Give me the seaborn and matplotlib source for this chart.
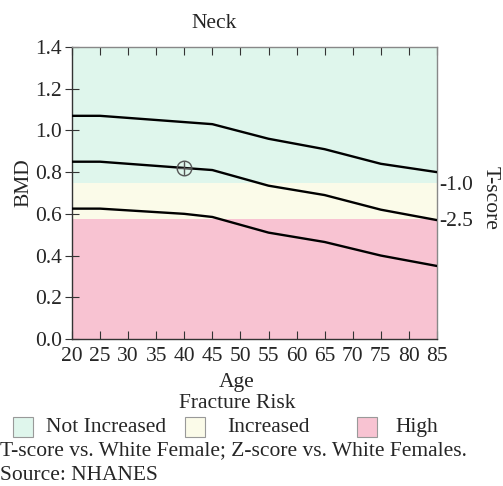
import matplotlib
matplotlib.use("Agg")
import matplotlib.pyplot as plt
import seaborn as sns
import pandas as pd
from matplotlib.patches import Rectangle

ages = [20, 25, 40, 45, 55, 65, 75, 85]
upper = [1.07, 1.07, 1.04, 1.03, 0.96, 0.91, 0.84, 0.80]
middle = [0.85, 0.85, 0.82, 0.81, 0.735, 0.69, 0.62, 0.57]
lower = [0.625, 0.625, 0.60, 0.585, 0.51, 0.465, 0.40, 0.35]

patient_age = 40
patient_bmd = 0.82

tscore_bmd = [0.748, 0.574]
tscore_labels = ["-1.0", "-2.5"]
risk_labels = ["Not Increased", "Increased", "High"]
risk_colors = ["#dff6ec", "#fbfbe9", "#f8c3d2"]

df = pd.DataFrame({
    "Age": ages * 3,
    "BMD": upper + middle + lower,
    "curve": ["upper"] * len(ages) + ["middle"] * len(ages) + ["lower"] * len(ages),
})

FS = 15.5

sns.set_style("ticks")
plt.rcParams["font.family"] = ["Liberation Serif", "DejaVu Serif"]
plt.rcParams["font.size"] = FS

fig = plt.figure(figsize=(5.03, 4.86), dpi=100)
ax = fig.add_axes([0.1431, 0.3025, 0.7256, 0.6008])

# risk bands
ax.axhspan(tscore_bmd[0], 1.4, color=risk_colors[0], lw=0, zorder=0)
ax.axhspan(tscore_bmd[1], tscore_bmd[0], color=risk_colors[1], lw=0, zorder=0)
ax.axhspan(0, tscore_bmd[1], color=risk_colors[2], lw=0, zorder=0)

sns.lineplot(data=df, x="Age", y="BMD", units="curve", estimator=None,
             color="black", lw=1.7, ax=ax, zorder=3)
ax.plot(patient_age, patient_bmd, marker="o", ms=10.5, mfc="none",
        mec="#555555", mew=1.0, zorder=4)
ax.plot(patient_age, patient_bmd, marker="+", ms=10.5, color="#555555",
        mew=1.0, zorder=4)

ax.set_xlim(20, 85)
ax.set_ylim(0, 1.4)
ax.set_xticks(range(20, 90, 5))
ax.set_yticks([0.0, 0.2, 0.4, 0.6, 0.8, 1.0, 1.2, 1.4])
ax.set_yticklabels(["0.0", "0.2", "0.4", "0.6", "0.8", "1.0", "1.2", "1.4"])
ax.tick_params(axis="x", direction="in", length=6, top=True, labeltop=False,
               labelsize=FS, pad=6, color="#333333")
ax.tick_params(axis="y", direction="inout", length=10, right=True,
               labelright=False, labelsize=FS, pad=2, color="#333333")
for s in ax.spines.values():
    s.set_color("#333333")
    s.set_linewidth(1.0)
ax.spines["top"].set_color("#888888")
ax.spines["right"].set_color("#888888")

ax.set_xlabel("Age", fontsize=FS)
ax.xaxis.set_label_coords(0.452, -0.115)
ax.set_ylabel("BMD", fontsize=FS, labelpad=0)
ax.yaxis.set_label_coords(-0.105, 0.534)

ax2 = ax.twinx()
ax2.set_ylim(0, 1.4)
ax2.set_yticks(tscore_bmd)
ax2.set_yticklabels(tscore_labels)
ax2.tick_params(axis="y", direction="in", length=0, pad=2, labelsize=FS)
for s in ax2.spines.values():
    s.set_visible(False)

fig.text(490 / 503, 1 - 198 / 486, "T-score", rotation=270, ha="center",
         va="center", fontsize=FS)
fig.text(214 / 503, 1 - 23 / 486, "Neck", ha="center", va="center", fontsize=FS)
fig.text(237 / 503, 1 - 403 / 486, "Fracture Risk", ha="center", va="center",
         fontsize=FS)

# legend row
patch_x = [13, 185, 357]
text_x = [46, 227, 395]
for px, tx, lab, col in zip(patch_x, text_x, risk_labels, risk_colors):
    fig.patches.append(Rectangle((px / 503, 1 - 437 / 486), 20 / 503, 20 / 486,
                                 transform=fig.transFigure, facecolor=col,
                                 edgecolor="#999999", lw=0.8))
    fig.text(tx / 503, 1 - 427 / 486, lab, ha="left", va="center", fontsize=FS)

fig.text(0, 1 - 451 / 486,
         "T-score vs. White Female; Z-score vs. White Females.",
         ha="left", va="center", fontsize=FS)
fig.text(0, 1 - 475 / 486, "Source: NHANES", ha="left", va="center",
         fontsize=FS)

fig.savefig("out.png", dpi=100)
